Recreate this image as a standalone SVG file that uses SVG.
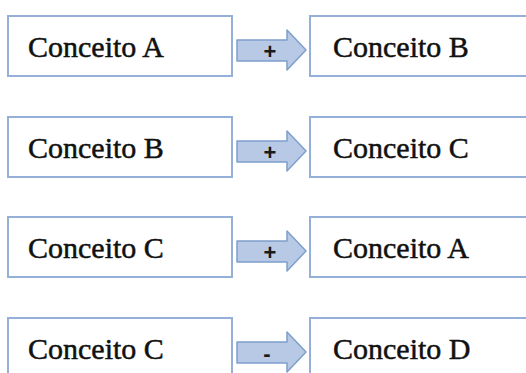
<svg xmlns="http://www.w3.org/2000/svg" width="526" height="373" viewBox="0 0 526 373">
<style>
.box{fill:#fff;stroke:#94b0d8;stroke-width:2}
.lbl{font-family:"Liberation Serif",serif;font-size:30px;fill:#111;stroke:#111;stroke-width:0.5}
.arr{fill:#b7c9e4;stroke:#7e9fcc;stroke-width:1.5;stroke-linejoin:round}
.sign{font-family:"Liberation Sans",sans-serif;font-size:22px;font-weight:bold;fill:#1a1a1a;text-anchor:middle}
</style>
<defs>
<path id="arrow" d="M237,40 L287,40 L287,30 L306,50 L287,70 L287,61 L237,61 Z"/>
</defs>
<g id="row1-left"><rect class="box" x="8" y="16" width="224" height="60"/><text class="lbl" x="28" y="57">Conceito A</text></g>
<g id="row1-right"><rect class="box" x="310" y="16" width="230" height="60"/><text class="lbl" x="333" y="57">Conceito B</text></g>
<g id="row2-left"><rect class="box" x="8" y="117" width="224" height="60"/><text class="lbl" x="28" y="158">Conceito B</text></g>
<g id="row2-right"><rect class="box" x="310" y="117" width="230" height="60"/><text class="lbl" x="333" y="158">Conceito C</text></g>
<g id="row3-left"><rect class="box" x="8" y="217" width="224" height="60"/><text class="lbl" x="28" y="258">Conceito C</text></g>
<g id="row3-right"><rect class="box" x="310" y="217" width="230" height="60"/><text class="lbl" x="333" y="258">Conceito A</text></g>
<g id="row4-left"><rect class="box" x="8" y="318" width="224" height="60"/><text class="lbl" x="28" y="359">Conceito C</text></g>
<g id="row4-right"><rect class="box" x="310" y="318" width="230" height="60"/><text class="lbl" x="333" y="359">Conceito D</text></g>
<g id="connectors">
<g><use href="#arrow" class="arr"/><text class="sign" x="270" y="59">+</text></g>
<g transform="translate(0,101)"><use href="#arrow" class="arr"/><text class="sign" x="270" y="59">+</text></g>
<g transform="translate(0,201)"><use href="#arrow" class="arr"/><text class="sign" x="270" y="59">+</text></g>
<g transform="translate(0,302)"><use href="#arrow" class="arr"/><text class="sign" x="267" y="59">-</text></g>
</g>
</svg>
